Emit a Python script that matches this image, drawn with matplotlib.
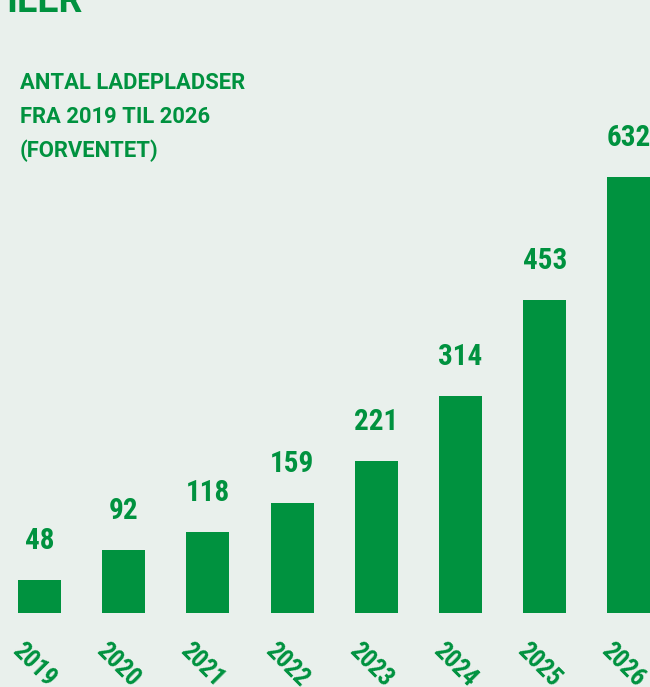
import matplotlib
matplotlib.use("Agg")
from matplotlib import pyplot as plt
import numpy as np

# data
years = ["2019", "2020", "2021", "2022", "2023", "2024", "2025", "2026"]
values = [48, 92, 118, 159, 221, 314, 453, 632]
title_lines = ["ANTAL LADEPLADSER", "FRA 2019 TIL 2026", "(FORVENTET)"]

green = "#00923f"
bg = "#e9f0ec"
narrow = ["DejaVu Sans Condensed", "Liberation Sans Narrow", "Roboto Condensed",
          "Open Sans Condensed", "DejaVu Sans"]
head = ["Roboto", "DejaVu Sans"]

fig = plt.figure(figsize=(6.5, 6.87), dpi=100, facecolor=bg)
ax = fig.add_axes([0, 74 / 687, 1, 613 / 687])
ax.set_facecolor(bg)

x = np.arange(len(years))
ax.bar(x, values, width=0.51, color=green)
ax.set_xlim(-0.469, 7.25)
ax.set_ylim(0, 613 / 0.69)

for xi, v in zip(x, values):
    ax.annotate(str(v), (xi, v), xytext=(0, 18), textcoords="offset points",
                ha="center", va="bottom", color=green, fontsize=21,
                fontweight="bold", family=narrow, fontstretch="condensed")

# rotated year labels under the bars
for xi, yr in zip(x, years):
    ax.annotate(yr, (xi, 0), xytext=(-15, -26), textcoords="offset pixels",
                rotation=-45, rotation_mode="anchor", ha="left", va="top",
                color=green, fontsize=18, fontweight="bold", family=narrow,
                fontstretch="condensed", annotation_clip=False)

ax.set_xticks([])
ax.set_yticks([])
for s in ax.spines.values():
    s.set_visible(False)

# heading block
for i, line in enumerate(title_lines):
    fig.text(20 / 650, 1 - (83 + 34 * i) / 687, line, color=green,
             fontsize=15.8, fontweight="bold", va="center", ha="left",
             family=head)

# cut-off headline at the very top
fig.text(83 / 650, 1 - 12 / 687, "ILER", color=green, fontsize=27,
         fontweight="bold", ha="right", va="baseline", family=head)

fig.savefig("out.png", dpi=100, facecolor=bg)
